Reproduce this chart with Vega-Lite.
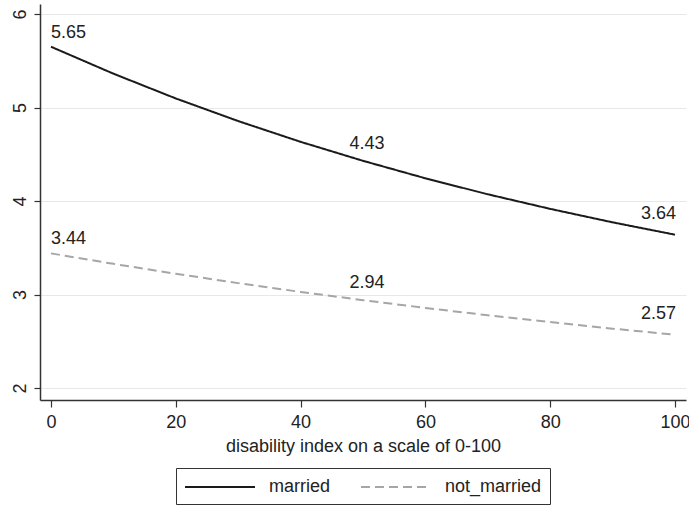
{
  "$schema": "https://vega.github.io/schema/vega-lite/v6.json",
  "width": 646,
  "height": 396,
  "autosize": "none",
  "padding": {"left": 40, "top": 4, "right": 3, "bottom": 107},
  "background": "white",
  "config": {
    "font": "Liberation Sans",
    "view": {"stroke": null},
    "axis": {
      "labelFont": "Liberation Sans",
      "titleFont": "Liberation Sans",
      "labelFontSize": 18,
      "titleFontSize": 18,
      "titleFontWeight": "normal",
      "labelColor": "#222222",
      "titleColor": "#222222",
      "domainColor": "#333333",
      "tickColor": "#333333",
      "domainWidth": 1.5,
      "tickWidth": 1.2
    },
    "legend": {
      "labelFont": "Liberation Sans",
      "labelFontSize": 18,
      "labelColor": "#222222"
    }
  },
  "data": {
    "values": [
      {"disability": 0, "value": 5.65, "group": "married"},
      {"disability": 10, "value": 5.362, "group": "married"},
      {"disability": 20, "value": 5.097, "group": "married"},
      {"disability": 30, "value": 4.855, "group": "married"},
      {"disability": 40, "value": 4.633, "group": "married"},
      {"disability": 50, "value": 4.43, "group": "married"},
      {"disability": 60, "value": 4.243, "group": "married"},
      {"disability": 70, "value": 4.072, "group": "married"},
      {"disability": 80, "value": 3.916, "group": "married"},
      {"disability": 90, "value": 3.772, "group": "married"},
      {"disability": 100, "value": 3.64, "group": "married"},
      {"disability": 0, "value": 3.44, "group": "not_married"},
      {"disability": 10, "value": 3.328, "group": "not_married"},
      {"disability": 20, "value": 3.222, "group": "not_married"},
      {"disability": 30, "value": 3.122, "group": "not_married"},
      {"disability": 40, "value": 3.028, "group": "not_married"},
      {"disability": 50, "value": 2.94, "group": "not_married"},
      {"disability": 60, "value": 2.857, "group": "not_married"},
      {"disability": 70, "value": 2.778, "group": "not_married"},
      {"disability": 80, "value": 2.705, "group": "not_married"},
      {"disability": 90, "value": 2.635, "group": "not_married"},
      {"disability": 100, "value": 2.57, "group": "not_married"}
    ]
  },
  "encoding": {
    "x": {
      "field": "disability",
      "type": "quantitative",
      "scale": {"domain": [-1.76, 101.76], "nice": false, "zero": false},
      "axis": {
        "values": [0, 20, 40, 60, 80, 100],
        "title": "disability index on a scale of 0-100",
        "grid": false,
        "tickSize": 7,
        "labelPadding": 6,
        "titlePadding": 6
      }
    },
    "y": {
      "field": "value",
      "type": "quantitative",
      "scale": {"domain": [1.872, 6.107], "nice": false, "zero": false},
      "axis": {
        "values": [2, 3, 4, 5, 6],
        "title": null,
        "grid": true,
        "gridColor": "#e8e8e8",
        "gridWidth": 1,
        "tickSize": 6,
        "labelAngle": -90,
        "labelAlign": "center",
        "labelBaseline": "bottom",
        "labelPadding": 5
      }
    }
  },
  "layer": [
    {
      "mark": {"type": "line", "strokeWidth": 2},
      "encoding": {
        "color": {
          "field": "group",
          "type": "nominal",
          "scale": {"domain": ["married", "not_married"], "range": ["#1a1a1a", "#a6a6a6"]},
          "legend": {
            "title": null,
            "orient": "none",
            "legendX": 136,
            "legendY": 464,
            "direction": "horizontal",
            "symbolType": "M-1,0H6",
            "symbolSize": 400,
            "symbolStrokeWidth": 2,
            "symbolFillColor": "transparent",
            "strokeColor": "#333333",
            "padding": 8,
            "columnPadding": 26,
            "labelOffset": 63
          }
        },
        "strokeDash": {
          "field": "group",
          "type": "nominal",
          "scale": {"domain": ["married", "not_married"], "range": [[1, 0], [9, 5]]},
          "legend": {
            "title": null,
            "orient": "none",
            "legendX": 136,
            "legendY": 464,
            "direction": "horizontal",
            "symbolType": "M-1,0H6",
            "symbolSize": 400,
            "symbolStrokeWidth": 2,
            "symbolFillColor": "transparent",
            "strokeColor": "#333333",
            "padding": 8,
            "columnPadding": 26,
            "labelOffset": 63
          }
        }
      }
    },
    {
      "transform": [{"filter": "datum.disability == 0"}],
      "mark": {"type": "text", "align": "left", "baseline": "middle", "dy": -14, "fontSize": 18, "color": "#222222"},
      "encoding": {"text": {"field": "value", "type": "quantitative", "format": ".2f"}}
    },
    {
      "transform": [{"filter": "datum.disability == 50"}],
      "mark": {"type": "text", "align": "center", "baseline": "middle", "dx": 4, "dy": -17, "fontSize": 18, "color": "#222222"},
      "encoding": {"text": {"field": "value", "type": "quantitative", "format": ".2f"}}
    },
    {
      "transform": [{"filter": "datum.disability == 100"}],
      "mark": {"type": "text", "align": "right", "baseline": "middle", "dx": 1, "dy": -21, "fontSize": 18, "color": "#222222"},
      "encoding": {"text": {"field": "value", "type": "quantitative", "format": ".2f"}}
    }
  ]
}
